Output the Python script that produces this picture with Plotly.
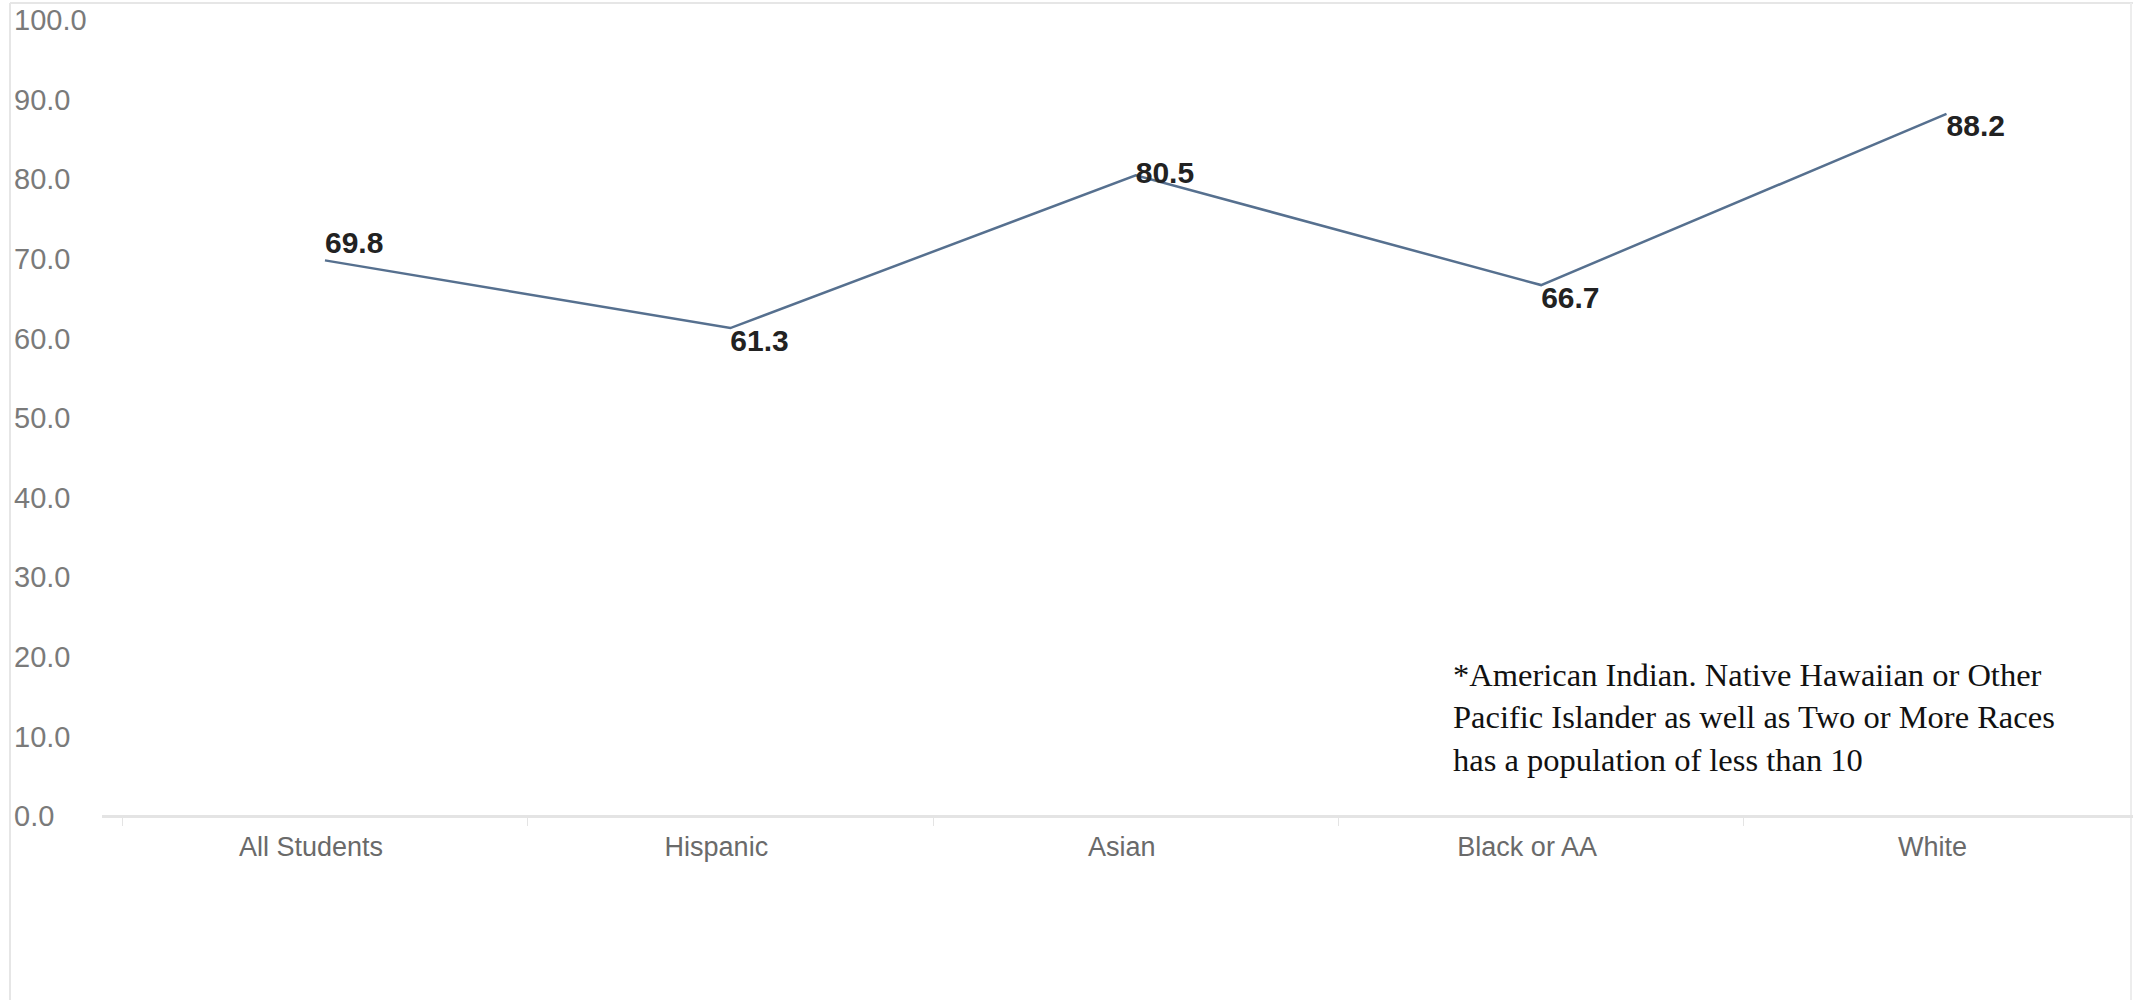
import plotly.graph_objects as go

# ---- data ----
categories = ["All Students", "Hispanic", "Asian", "Black or AA", "White"]
values = [69.8, 61.3, 80.5, 66.7, 88.2]
y_ticks = [0, 10, 20, 30, 40, 50, 60, 70, 80, 90, 100]
label_positions = ["top right", "bottom right", "middle right", "bottom right", "bottom right"]
footnote = ("*American Indian. Native Hawaiian or Other<br>"
            "Pacific Islander as well as Two or More Races<br>"
            "has a population of less than 10")

W, H = 2133, 1000

# layout geometry (pixels): value 0 at y=816, value 100 at y=20
Y0_PX, Y100_PX = 816, 20
px_per_unit = (Y0_PX - Y100_PX) / 100.0
dom_bottom_px, dom_top_px = 900, 0
y_range = [(Y0_PX - dom_bottom_px) / px_per_unit, (Y0_PX - dom_top_px) / px_per_unit]
y_domain = [1 - dom_bottom_px / H, 1 - dom_top_px / H]

fig = go.Figure()
fig.add_trace(go.Scatter(
    x=categories,
    y=values,
    mode="lines+text",
    text=[f"{v:.1f}" for v in values],
    textposition=label_positions,
    textfont=dict(family="Liberation Sans, Arial, sans-serif", size=30, color="#222222", weight="bold"),
    line=dict(color="#56708f", width=2.5),
    cliponaxis=False,
    showlegend=False,
    hoverinfo="x+y",
))

fig.update_layout(
    width=W, height=H,
    margin=dict(l=0, r=0, t=0, b=0),
    paper_bgcolor="white",
    plot_bgcolor="white",
    xaxis=dict(
        domain=[102 / W, 1],
        type="category",
        range=[-0.55, 4.46],
        anchor="free", position=1 - Y0_PX / H,
        showline=True, linecolor="#e4e4e4", linewidth=3,
        ticks="outside", tickson="boundaries", ticklen=8, tickcolor="#e4e4e4", tickwidth=1,
        tickfont=dict(family="Liberation Sans, Arial, sans-serif", size=27, color="#6a6a6a"),
        ticklabelshift=-14,
        ticklabelstandoff=6,
        showgrid=False, zeroline=False,
    ),
    yaxis=dict(
        domain=y_domain,
        range=y_range,
        anchor="free", position=0,
        tickvals=y_ticks, tickformat=".1f",
        ticklabelposition="inside",
        ticklabelstandoff=10,
        tickfont=dict(family="Liberation Sans, Arial, sans-serif", size=29, color="#7a7a7a"),
        showline=False, showgrid=False, zeroline=False, ticks="",
    ),
    annotations=[dict(
        x=1451 / W, y=1 - 717 / H, xref="paper", yref="paper",
        xanchor="left", yanchor="middle", align="left",
        text=footnote, showarrow=False,
        font=dict(family="Liberation Serif, Times New Roman, serif", size=32.5, color="#111111"),
    )],
    shapes=[
        dict(type="line", xref="paper", yref="paper", x0=10 / W, x1=10 / W, y0=0, y1=1 - 3 / H,
             line=dict(color="#e6e6e6", width=2), layer="below"),
        dict(type="line", xref="paper", yref="paper", x0=10 / W, x1=1, y0=1 - 3 / H, y1=1 - 3 / H,
             line=dict(color="#e6e6e6", width=2), layer="below"),
        dict(type="line", xref="paper", yref="paper", x0=1 - 2 / W, x1=1 - 2 / W, y0=0, y1=1 - 3 / H,
             line=dict(color="#ededed", width=2), layer="below"),
    ],
)

fig.write_html("out.html",
               config={"displayModeBar": False},
               post_script="document.body.style.margin='0';document.body.style.overflow='hidden';")
